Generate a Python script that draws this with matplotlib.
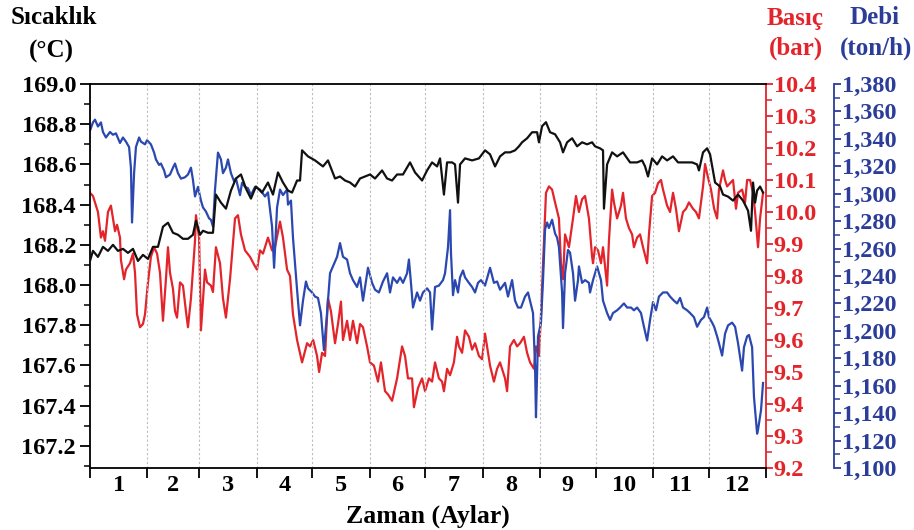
import matplotlib
matplotlib.use("Agg")
import matplotlib.pyplot as plt
import matplotlib.ticker as tkr

plt.rcParams['font.family'] = ['Liberation Serif', 'DejaVu Serif']
plt.rcParams['font.weight'] = 'bold'

# month boundaries (day of year) and labels
month_edges = [0, 31, 59, 90, 120, 151, 181, 212, 243, 273, 304, 334, 365]
month_labels = ['1', '2', '3', '4', '5', '6', '7', '8', '9', '10', '11', '12']

# temperature (°C)
temp_day = [0, 1.6, 4.3, 7.0, 9.7, 12.4, 15.1, 17.8, 20.5, 23.2, 25.9, 28.6, 31.3, 34.0, 36.7,
            39.4, 42.1, 44.8, 47.5, 50.2, 52.9, 55.6, 57.2, 59.4, 61.0, 63.7, 66.4, 68.0, 70.7,
            73.4, 76.1, 78.8, 81.5, 84.2, 86.9, 89.6, 92.9, 96.1, 98.8, 101.5, 104.2, 106.9,
            109.1, 111.8, 113.4, 114.5, 117.7, 121.5, 125.8, 128.5, 132.3, 135.0, 137.7, 140.4,
            143.1, 145.8, 148.5, 151.2, 153.9, 157.7, 160.4, 163.1, 165.8, 169.0, 172.8, 175.5,
            179.3, 182.0, 184.7, 187.4, 189.0, 191.1, 192.8, 195.5, 197.1, 198.7, 199.8, 202.5,
            206.3, 210.0, 213.3, 216.0, 218.7, 221.4, 224.1, 226.8, 229.5, 231.6, 233.3, 236.0,
            238.7, 241.4, 242.4, 244.1, 246.2, 248.4, 251.1, 253.8, 255.4, 257.6, 260.3, 263.0,
            265.7, 268.4, 271.1, 272.7, 275.4, 277.0, 277.5, 279.2, 281.9, 284.6, 287.8, 291.6,
            295.4, 298.1, 299.7, 301.3, 303.5, 306.2, 308.9, 311.6, 314.8, 317.5, 321.3, 325.1,
            327.8, 328.8, 331.0, 333.2, 334.8, 337.5, 340.2, 341.8, 344.5, 347.2, 349.9, 352.6,
            355.3, 356.9, 358.0, 359.1, 360.2, 361.8, 363.4]
temp_val = [168.12, 168.17, 168.14, 168.19, 168.17, 168.20, 168.17, 168.18, 168.16, 168.18,
            168.12, 168.15, 168.13, 168.19, 168.19, 168.29, 168.31, 168.26, 168.25, 168.23,
            168.23, 168.25, 168.32, 168.25, 168.27, 168.26, 168.26, 168.45, 168.41, 168.38,
            168.47, 168.53, 168.55, 168.48, 168.43, 168.49, 168.46, 168.51, 168.45, 168.56,
            168.51, 168.47, 168.46, 168.52, 168.52, 168.67, 168.64, 168.62, 168.59, 168.62,
            168.53, 168.54, 168.52, 168.51, 168.49, 168.53, 168.54, 168.55, 168.53, 168.57,
            168.53, 168.52, 168.55, 168.55, 168.61, 168.56, 168.52, 168.57, 168.61, 168.59,
            168.63, 168.45, 168.61, 168.61, 168.60, 168.41, 168.60, 168.63, 168.62, 168.63,
            168.67, 168.65, 168.59, 168.64, 168.66, 168.66, 168.67, 168.69, 168.71, 168.73,
            168.76, 168.76, 168.71, 168.79, 168.81, 168.76, 168.75, 168.71, 168.66, 168.71,
            168.73, 168.69, 168.71, 168.70, 168.71, 168.69, 168.68, 168.67, 168.38, 168.60,
            168.66, 168.64, 168.66, 168.61, 168.61, 168.62, 168.59, 168.54, 168.63, 168.60,
            168.64, 168.62, 168.64, 168.61, 168.61, 168.61, 168.60, 168.57, 168.66, 168.68,
            168.65, 168.51, 168.49, 168.45, 168.44, 168.42, 168.45, 168.42, 168.37, 168.27,
            168.51, 168.41, 168.47, 168.49, 168.46]

# pressure (bar)
pres_day = [0, 1.6, 4.3, 5.9, 7.0, 8.1, 9.7, 11.3, 12.4, 13.5, 14.6, 16.2, 16.7, 18.4, 19.4,
            21.6, 23.2, 24.3, 25.4, 27.0, 28.6, 29.7, 31.3, 32.9, 34.6, 36.2, 37.8, 39.4, 41.0,
            42.1, 43.2, 44.8, 45.9, 47.0, 48.6, 50.2, 51.8, 52.9, 54.5, 56.7, 57.2, 58.9, 59.9,
            62.1, 63.2, 65.3, 66.4, 68.0, 70.2, 71.8, 73.4, 75.6, 78.3, 79.9, 81.5, 83.7, 86.4,
            89.1, 90.2, 91.8, 93.4, 96.1, 98.3, 99.9, 102.6, 104.2, 106.4, 108.0, 109.6, 111.8,
            114.5, 117.2, 118.8, 120.5, 122.6, 123.7, 125.3, 126.9, 128.5, 130.1, 132.3, 133.9,
            135.5, 136.6, 138.8, 140.4, 142.0, 144.2, 145.8, 147.4, 149.6, 151.2, 153.3, 155.5,
            157.1, 159.3, 160.9, 163.1, 165.8, 168.5, 170.1, 171.7, 173.9, 174.9, 177.1, 179.3,
            180.9, 183.0, 184.7, 186.3, 188.4, 190.1, 191.1, 192.8, 194.4, 196.5, 198.2, 199.2,
            200.9, 202.5, 204.6, 206.3, 207.9, 210.0, 211.7, 213.3, 214.4, 216.0, 218.1, 219.8,
            221.4, 224.1, 225.2, 226.8, 228.9, 230.6, 232.2, 234.3, 236.0, 237.6, 239.7, 240.8,
            242.4, 243.5, 245.1, 246.2, 247.8, 249.5, 251.1, 253.2, 254.3, 255.4, 256.5, 258.6,
            260.8, 262.4, 264.0, 265.7, 267.3, 269.4, 271.1, 271.6, 272.7, 274.3, 275.9, 277.0,
            279.2, 280.2, 281.9, 282.9, 284.6, 286.7, 287.8, 289.4, 291.0, 292.7, 293.7, 295.4,
            297.0, 298.6, 300.8, 301.8, 303.5, 305.1, 306.7, 308.3, 309.4, 311.6, 313.2, 314.8,
            316.4, 318.0, 320.2, 321.8, 323.4, 325.6, 327.2, 328.8, 331.0, 332.1, 333.2, 335.3,
            337.0, 338.6, 339.6, 341.8, 342.9, 344.0, 345.6, 347.2, 348.8, 349.9, 352.1, 353.7,
            354.8, 356.4, 358.0, 359.1, 360.7, 361.8, 363.4]
pres_val = [10.06, 10.05, 10.00, 9.92, 9.94, 9.91, 10.00, 10.02, 9.98, 9.94, 9.96, 9.92, 9.85,
            9.79, 9.82, 9.84, 9.87, 9.81, 9.68, 9.64, 9.65, 9.68, 9.78, 9.86, 9.89, 9.87, 9.81,
            9.66, 9.79, 9.89, 9.81, 9.76, 9.69, 9.67, 9.78, 9.77, 9.69, 9.64, 9.73, 9.91, 9.99,
            9.92, 9.63, 9.82, 9.78, 9.77, 9.75, 9.89, 9.84, 9.73, 9.67, 9.79, 9.98, 9.99, 9.93,
            9.88, 9.86, 9.83, 9.82, 9.88, 9.87, 9.92, 9.88, 9.89, 9.97, 9.92, 9.82, 9.80, 9.68,
            9.60, 9.53, 9.59, 9.58, 9.60, 9.55, 9.50, 9.56, 9.55, 9.73, 9.69, 9.59, 9.65, 9.72,
            9.60, 9.66, 9.60, 9.66, 9.59, 9.65, 9.64, 9.58, 9.53, 9.52, 9.47, 9.53, 9.44, 9.43,
            9.41, 9.48, 9.58, 9.55, 9.48, 9.48, 9.39, 9.45, 9.48, 9.44, 9.48, 9.47, 9.53, 9.48,
            9.47, 9.44, 9.51, 9.49, 9.53, 9.61, 9.58, 9.56, 9.63, 9.61, 9.57, 9.59, 9.55, 9.54,
            9.62, 9.58, 9.52, 9.47, 9.51, 9.53, 9.48, 9.44, 9.58, 9.60, 9.58, 9.59, 9.61, 9.56,
            9.53, 9.51, 9.58, 9.55, 9.68, 9.91, 10.06, 10.08, 10.07, 10.03, 9.98, 9.84, 9.79,
            9.93, 9.89, 9.98, 10.05, 10.00, 10.04, 10.05, 9.98, 9.86, 9.84, 9.89, 9.88, 9.84,
            9.89, 9.77, 9.91, 10.07, 10.03, 9.98, 10.02, 10.06, 9.98, 9.95, 9.93, 9.89, 9.92,
            9.93, 9.89, 9.84, 9.93, 10.05, 10.06, 10.09, 10.10, 10.07, 10.02, 10.00, 10.06,
            10.01, 9.94, 10.00, 10.01, 10.03, 10.01, 10.00, 9.98, 10.08, 10.15, 10.12, 10.07,
            10.01, 9.98, 10.07, 10.13, 10.10, 10.08, 10.09, 10.10, 10.01, 10.06, 10.07, 10.03,
            10.10, 10.10, 10.06, 10.00, 9.89, 9.98, 10.06]

# flow (ton/h)
flow_day = [0, 1.6, 2.7, 4.3, 5.9, 7.0, 8.6, 10.8, 12.4, 14.0, 16.2, 17.8, 19.4, 21.1, 22.1,
            22.7, 23.8, 24.8, 26.5, 27.5, 29.7, 30.8, 32.9, 34.6, 35.6, 37.3, 38.3, 40.0, 41.0,
            43.2, 44.8, 45.9, 47.5, 49.1, 51.3, 52.9, 54.5, 55.6, 56.7, 58.3, 59.9, 61.0, 62.6,
            64.3, 65.3, 66.4, 67.5, 69.1, 70.7, 71.8, 73.4, 74.5, 76.1, 77.8, 78.8, 81.0, 82.1,
            83.7, 85.3, 86.9, 89.1, 91.8, 94.5, 96.1, 98.3, 99.4, 101.0, 102.6, 104.2, 106.4,
            106.9, 108.5, 109.6, 111.8, 113.4, 115.0, 116.6, 117.7, 119.9, 121.5, 123.1, 124.7,
            126.3, 128.0, 129.6, 131.2, 133.4, 135.0, 136.6, 138.8, 140.4, 142.0, 144.2, 145.8,
            147.4, 150.1, 152.3, 153.9, 156.0, 158.2, 160.4, 162.0, 163.6, 165.8, 167.4, 169.0,
            171.2, 172.2, 173.3, 174.4, 176.6, 178.2, 179.8, 182.0, 183.6, 184.7, 186.3, 188.4,
            190.6, 191.7, 193.3, 194.4, 194.9, 196.0, 197.1, 198.7, 199.8, 201.4, 202.5, 204.6,
            206.3, 207.9, 209.5, 211.1, 213.3, 216.0, 218.1, 219.8, 221.4, 224.1, 225.7, 227.9,
            229.5, 231.1, 232.7, 234.9, 236.5, 237.6, 239.2, 240.3, 240.8, 241.9, 243.5, 244.6,
            245.7, 246.8, 247.8, 249.5, 251.1, 252.2, 253.2, 254.9, 255.4, 256.5, 258.1, 259.2,
            260.8, 261.9, 263.5, 264.0, 265.7, 267.3, 269.4, 270.0, 271.6, 273.8, 275.9, 277.0,
            279.2, 280.8, 282.4, 284.6, 286.2, 288.3, 290.0, 292.1, 293.7, 295.4, 297.5, 299.1,
            300.8, 302.4, 304.0, 305.6, 307.2, 309.4, 311.6, 313.2, 315.3, 317.0, 318.6, 320.2,
            322.4, 324.0, 326.1, 327.8, 329.9, 331.5, 333.2, 334.2, 335.9, 337.0, 338.6, 339.6,
            341.3, 342.9, 344.5, 346.7, 348.3, 349.9, 352.1, 353.1, 354.8, 355.8, 357.5, 358.5,
            360.2, 360.7, 362.3, 363.4]
flow_val = [1346, 1352, 1354, 1349, 1352, 1345, 1341, 1345, 1343, 1344, 1337, 1341, 1338, 1334,
            1319, 1279, 1315, 1334, 1341, 1338, 1336, 1339, 1336, 1330, 1325, 1321, 1322, 1317,
            1312, 1314, 1319, 1322, 1315, 1311, 1312, 1314, 1319, 1310, 1298, 1305, 1295, 1290,
            1287, 1282, 1281, 1276, 1303, 1330, 1325, 1315, 1319, 1325, 1315, 1309, 1311, 1299,
            1308, 1305, 1304, 1299, 1305, 1303, 1298, 1301, 1276, 1246, 1290, 1303, 1299, 1303,
            1292, 1295, 1268, 1230, 1204, 1222, 1236, 1231, 1228, 1225, 1224, 1213, 1186, 1213,
            1242, 1247, 1254, 1264, 1254, 1252, 1242, 1237, 1232, 1239, 1222, 1246, 1235, 1230,
            1228, 1236, 1242, 1228, 1239, 1235, 1239, 1235, 1242, 1252, 1235, 1217, 1228, 1222,
            1228, 1231, 1228, 1201, 1232, 1233, 1237, 1242, 1261, 1288, 1257, 1226, 1237, 1228,
            1239, 1244, 1239, 1235, 1232, 1228, 1235, 1237, 1233, 1246, 1235, 1236, 1230, 1235,
            1225, 1237, 1222, 1217, 1217, 1225, 1228, 1222, 1213, 1174, 1137, 1196, 1206, 1237,
            1274, 1279, 1275, 1281, 1271, 1268, 1261, 1228, 1202, 1242, 1259, 1257, 1242, 1222,
            1237, 1247, 1235, 1237, 1235, 1228, 1237, 1247, 1237, 1222, 1213, 1208, 1213, 1215,
            1217, 1220, 1217, 1217, 1215, 1217, 1213, 1203, 1193, 1208, 1221, 1215, 1225, 1228,
            1228, 1225, 1222, 1220, 1224, 1217, 1215, 1213, 1210, 1203, 1208, 1210, 1217, 1210,
            1206, 1203, 1196, 1191, 1182, 1198, 1204, 1206, 1203, 1191, 1171, 1188, 1196, 1197,
            1188, 1152, 1125, 1128, 1142, 1162]

black = '#111111'
red = '#e3242b'
blue = '#2a48b0'
blue_txt = '#2b3d99'
fs = 17.5
fs_title = 18

fig = plt.figure(figsize=(9.14, 5.3), dpi=100)
ax = fig.add_axes([90 / 914, 1 - 468 / 530, 676 / 914, 384 / 530])
ax_p = ax.twinx()
ax_f = ax.twinx()
ax_f.spines['right'].set_position(('axes', 1 + 68 / 676))

ax_p.plot(pres_day, pres_val, color=red, lw=1.6)
ax_f.plot(flow_day, flow_val, color=blue, lw=1.6)
ax.plot(temp_day, temp_val, color=black, lw=1.6, zorder=5)
ax.set_zorder(3)
ax.patch.set_visible(False)
ax_f.set_zorder(2)
ax_p.set_zorder(1)

ax.set_xlim(0, 365)
ax.set_ylim(167.09, 169.0)
ax_p.set_ylim(9.2, 10.4)
ax_f.set_ylim(1100, 1380)

# x axis: ticks at month edges, labels at month centres
ax.set_xticks(month_edges)
ax.set_xticklabels([])
centres = [(a + b) / 2 for a, b in zip(month_edges[:-1], month_edges[1:])]
ax.set_xticks(centres, minor=True)
ax.set_xticklabels(month_labels, minor=True)
ax.tick_params(axis='x', which='minor', length=0, labelsize=fs, pad=5)
ax.tick_params(axis='x', which='major', length=7, width=1.3, direction='out')
for d in month_edges[1:-1]:
    ax.axvline(d, color='#bdbdbd', lw=0.8, ls=(0, (2, 2)), zorder=0)

ax.set_yticks([167.2 + 0.2 * i for i in range(10)])
ax.yaxis.set_minor_locator(tkr.MultipleLocator(0.1))
ax.yaxis.set_major_formatter(tkr.FormatStrFormatter('%.1f'))
ax.tick_params(axis='y', which='major', length=7, width=1.3, labelsize=fs, pad=3)
ax.tick_params(axis='y', which='minor', length=4, width=1.1)

ax_p.yaxis.set_major_locator(tkr.MultipleLocator(0.1))
ax_p.yaxis.set_minor_locator(tkr.MultipleLocator(0.05))
ax_p.yaxis.set_major_formatter(tkr.FormatStrFormatter('%.1f'))
ax_p.tick_params(axis='y', which='major', length=5, width=1.3, labelsize=fs, pad=0.5,
                 colors=red)
ax_p.tick_params(axis='y', which='minor', length=4, width=1.1, colors=red)

ax_f.yaxis.set_major_locator(tkr.MultipleLocator(20))
ax_f.yaxis.set_minor_locator(tkr.MultipleLocator(10))
ax_f.yaxis.set_major_formatter(tkr.FuncFormatter(lambda v, p: f'{v:,.0f}'))
ax_f.tick_params(axis='y', which='major', length=5, width=1.3, labelsize=fs, pad=0.5,
                 colors=blue_txt)
ax_f.tick_params(axis='y', which='minor', length=4, width=1.1, colors=blue_txt)

for a in (ax, ax_p, ax_f):
    for s in a.spines.values():
        s.set_linewidth(1.3)
ax_p.spines['right'].set_color(red)
ax_f.spines['right'].set_color(blue_txt)
for s in ('left', 'top', 'bottom'):
    ax_f.spines[s].set_visible(False)
    ax_p.spines[s].set_visible(False)
ax.spines['right'].set_visible(False)

ax.set_xlabel('Zaman (Aylar)', fontsize=18.5, fontweight='bold', labelpad=6)

fig.text(11 / 914, 1 - 18 / 530, 'Sıcaklık', fontsize=fs_title, fontweight='bold',
         ha='left', va='center')
fig.text(51 / 914, 1 - 51 / 530, '(°C)', fontsize=fs_title, fontweight='bold',
         ha='center', va='center')
fig.text(795 / 914, 1 - 18 / 530, 'Basıç', fontsize=fs_title, fontweight='bold',
         ha='center', va='center', color=red)
fig.text(796 / 914, 1 - 48 / 530, '(bar)', fontsize=fs_title, fontweight='bold',
         ha='center', va='center', color=red)
fig.text(874 / 914, 1 - 18 / 530, 'Debi', fontsize=fs_title, fontweight='bold',
         ha='center', va='center', color=blue_txt)
fig.text(876 / 914, 1 - 48 / 530, '(ton/h)', fontsize=fs_title, fontweight='bold',
         ha='center', va='center', color=blue_txt)

fig.savefig('out.png', dpi=100)
